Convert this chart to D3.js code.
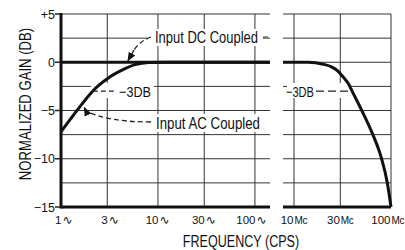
<!DOCTYPE html>
<html>
<head>
<meta charset="utf-8">
<script src="https://cdn.jsdelivr.net/npm/d3@7"></script>
<style>
  body { margin: 0; background: #fff; }
  svg text { font-family: "Liberation Sans", Arial, sans-serif; fill: #111; }
  .grid { stroke: #333; stroke-width: 1; }
  .thick { stroke: #111; stroke-width: 3; fill: none; }
  .lead { stroke: #222; stroke-width: 1.3; fill: none; stroke-dasharray: 5,3; }
</style>
</head>
<body>
<div id="chart"></div>
<script>
// ---- data ----
var yTicks = [5, 0, -5, -10, -15];
var yTickLabels = ["+5", "0", "\u22125", "\u221210", "\u221215"];
var yGrid = [5, 2.5, 0, -2.5, -5, -7.5, -10, -12.5, -15];

var lowTicks = [1, 3, 10, 30, 100];
var lowTickLabels = ["1", "3", "10", "30", "100"];
var highTicks = [10, 30, 100];          // Mc
var highTickLabels = ["10", "30", "100"];

// input DC coupled, low end (cps)
var dcFreq = [1, 143];
var dcGain = [0, 0];
// input AC coupled, low end (cps)
var acFreq = [1, 1.25, 1.57, 2, 2.24, 3, 4.2, 5.8, 8, 12, 143];
var acGain = [-7.2, -5.9, -4.6, -3.3, -2.75, -1.7, -0.85, -0.25, -0.03, 0, 0];
// high end (Mc)
var hfFreq = [7.7, 14, 20, 24, 27.5, 32, 36.3, 40.2, 50, 65, 80, 91.6, 100];
var hfGain = [0, 0, -0.2, -0.45, -0.8, -1.5, -2.2, -3.1, -5, -7.5, -10, -12.5, -15];

var width = 405, height = 250;

var svg = d3.select("#chart").append("svg")
  .attr("width", width)
  .attr("height", height);

var y = d3.scaleLinear().domain([5, -15]).range([14, 207]);
var xLow = d3.scaleLog().domain([1, 143]).range([61, 270]);
var xHigh = d3.scaleLog().domain([7.7, 100]).range([283, 391]);

//////////////////////// grid ////////////////////////
function drawGrid(x, ticks) {
  var g = svg.append("g");
  g.selectAll("line.h").data(yGrid).enter().append("line")
    .attr("class", "grid h")
    .attr("x1", x.range()[0]).attr("x2", x.range()[1])
    .attr("y1", function(d) { return y(d); })
    .attr("y2", function(d) { return y(d); });
  g.selectAll("line.v").data(ticks).enter().append("line")
    .attr("class", "grid v")
    .attr("x1", function(d) { return x(d); })
    .attr("x2", function(d) { return x(d); })
    .attr("y1", y(5)).attr("y2", y(-15));
  return g;
}
drawGrid(xLow, lowTicks);
drawGrid(xHigh, highTicks);

//////////////////////// label backgrounds (cut the grid) ////////////////////////
var bg = svg.append("g");
bg.append("rect").attr("x", 147).attr("y", 29).attr("width", 116).attr("height", 17).attr("fill", "#fff");
bg.append("rect").attr("x", 152).attr("y", 114).attr("width", 112).attr("height", 18).attr("fill", "#fff");
bg.append("rect").attr("x", 91).attr("y", 83).attr("width", 63).attr("height", 15).attr("fill", "#fff");
bg.append("rect").attr("x", 287).attr("y", 83).attr("width", 63).attr("height", 15).attr("fill", "#fff");

//////////////////////// axes ////////////////////////
svg.append("line").attr("class", "thick")
  .attr("x1", xLow(1)).attr("x2", xLow(1))
  .attr("y1", y(5) - 1).attr("y2", y(-15) + 1.5);
svg.append("line").attr("class", "thick")
  .attr("x1", xLow.range()[0]).attr("x2", xLow.range()[1])
  .attr("y1", y(-15)).attr("y2", y(-15));
svg.append("line").attr("class", "thick")
  .attr("x1", xHigh.range()[0]).attr("x2", xHigh.range()[1])
  .attr("y1", y(-15)).attr("y2", y(-15));

// y ticks + labels
svg.selectAll("line.ytick").data(yTicks).enter().append("line")
  .attr("class", "ytick")
  .attr("stroke", "#222").attr("stroke-width", 1.5)
  .attr("x1", 55).attr("x2", 61)
  .attr("y1", function(d) { return y(d); })
  .attr("y2", function(d) { return y(d); });
svg.selectAll("text.ytl").data(yTicks).enter().append("text")
  .attr("class", "ytl")
  .attr("x", 55)
  .attr("y", function(d) { return y(d); })
  .attr("dy", "0.36em")
  .attr("text-anchor", "end")
  .style("font-size", "12.5px")
  .text(function(d, i) { return yTickLabels[i]; });

// x tick labels: number ends at gridline, unit follows (one text each)
function xLabels(x, ticks, labels, unit, off) {
  svg.append("g").selectAll("text").data(ticks).enter().append("text")
    .attr("y", 223.5)
    .style("font-size", "11.5px")
    .each(function(d, i) {
      var t = d3.select(this);
      var n = t.append("tspan").text(labels[i]);
      var u = t.append("tspan").attr("dx", 1).text(unit);
      if (unit == "\u223F") {
        u.style("font-family", "DejaVu Sans").style("font-size", "12px");
      } else {
        u.style("font-size", "10px").style("letter-spacing", "-0.3px");
      }
      var len = n.node().getComputedTextLength();
      t.attr("x", x(d) + off - len);
    });
}
xLabels(xLow, lowTicks, lowTickLabels, "\u223F", 0.5);
xLabels(xHigh, highTicks, highTickLabels, "Mc", -0.5);

// titles
svg.append("text")
  .attr("transform", "translate(241,247) scale(0.74,1)")
  .attr("text-anchor", "middle")
  .style("font-size", "17px")
  .text("FREQUENCY (CPS)");
svg.append("text")
  .attr("transform", "translate(31,104) rotate(-90) scale(0.82,1)")
  .attr("text-anchor", "middle")
  .style("font-size", "16px")
  .text("NORMALIZED GAIN (DB)");

//////////////////////// curves ////////////////////////
var lineLow = d3.line()
  .x(function(d) { return xLow(d[0]); })
  .y(function(d) { return y(d[1]); })
  .curve(d3.curveMonotoneX);
var lineHigh = d3.line()
  .x(function(d) { return xHigh(d[0]); })
  .y(function(d) { return y(d[1]); })
  .curve(d3.curveMonotoneX);

svg.append("path").attr("class", "thick")
  .attr("d", lineLow(d3.zip(dcFreq, dcGain)));
svg.append("path").attr("class", "thick")
  .attr("d", lineLow(d3.zip(acFreq, acGain)));
svg.append("path").attr("class", "thick")
  .attr("d", lineHigh(d3.zip(hfFreq, hfGain)));

//////////////////////// annotations ////////////////////////
var defs = svg.append("defs");
defs.append("marker")
  .attr("id", "arrow")
  .attr("viewBox", "0 0 10 10")
  .attr("refX", 9).attr("refY", 5)
  .attr("markerWidth", 7).attr("markerHeight", 7)
  .attr("orient", "auto")
  .append("path")
  .attr("d", "M0,1 L10,5 L0,9 Z")
  .attr("fill", "#111");

// Input DC Coupled
svg.append("path").attr("class", "lead")
  .attr("d", "M151,37 Q140,41 134,50");
svg.append("path")
  .attr("d", "M134,50 L" + xLow(4.9) + "," + (y(0) - 1.5))
  .attr("stroke", "#111").attr("stroke-width", 1.3)
  .attr("marker-end", "url(#arrow)");
svg.append("text")
  .attr("x", 155).attr("y", 43)
  .attr("textLength", 103).attr("lengthAdjust", "spacingAndGlyphs")
  .style("font-size", "16.5px")
  .text("Input DC Coupled");
svg.append("line")
  .attr("x1", 263).attr("x2", 268).attr("y1", 37).attr("y2", 37)
  .attr("stroke", "#333");

// Input AC Coupled
svg.append("path").attr("class", "lead")
  .attr("d", "M151,122 Q108,122 86,111");
svg.append("path")
  .attr("d", "M86,111 L" + (xLow(1.68) + 1.5) + "," + (y(-4.6) + 1))
  .attr("stroke", "#111").attr("stroke-width", 1.3)
  .attr("marker-end", "url(#arrow)");
svg.append("text")
  .attr("x", 156).attr("y", 128.5)
  .attr("textLength", 104).attr("lengthAdjust", "spacingAndGlyphs")
  .style("font-size", "16.5px")
  .text("Input AC Coupled");

// -3 DB marks
svg.append("line").attr("class", "lead")
  .attr("x1", xLow(2.13)).attr("x2", 116)
  .attr("y1", y(-3)).attr("y2", y(-3));
svg.append("text")
  .attr("x", 119).attr("y", y(-3) + 5.5)
  .attr("textLength", 32).attr("lengthAdjust", "spacingAndGlyphs")
  .style("font-size", "15px")
  .text("\u22123DB");

svg.append("line").attr("class", "lead")
  .attr("x1", 316).attr("x2", xHigh(40))
  .attr("y1", y(-3)).attr("y2", y(-3))
  .style("stroke-dasharray", "8,4");
svg.append("text")
  .attr("x", 286).attr("y", y(-3) + 5.5)
  .attr("textLength", 28).attr("lengthAdjust", "spacingAndGlyphs")
  .style("font-size", "15px")
  .text("\u22123DB");
</script>
</body>
</html>
